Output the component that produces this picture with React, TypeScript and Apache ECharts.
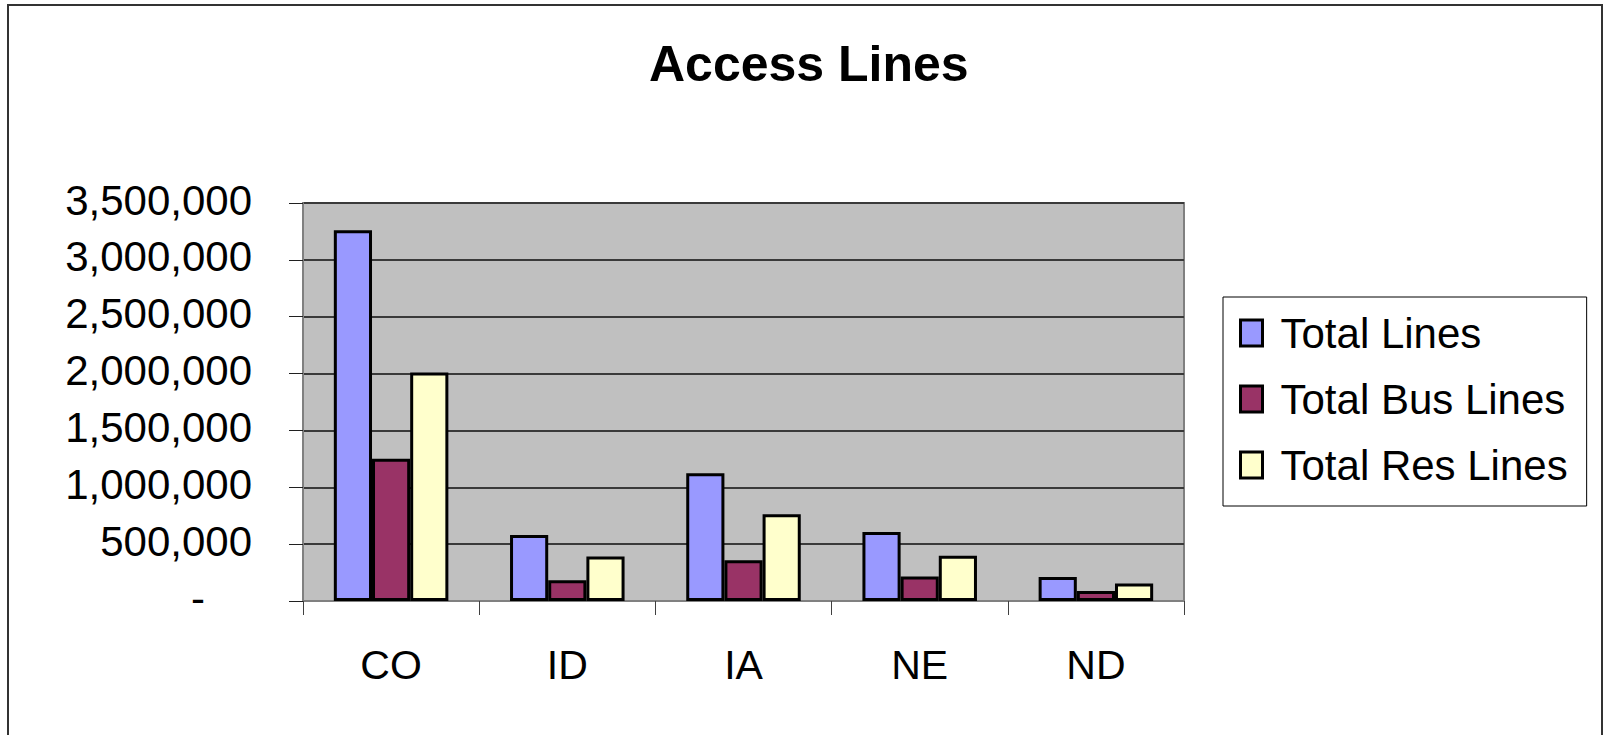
import React, { useEffect, useRef } from "react";
import * as echarts from "echarts";

const categories = ["CO", "ID", "IA", "NE", "ND"];
const totalLines = [3260000, 580000, 1123000, 606000, 212000];
const totalBusLines = [1252000, 182000, 359000, 215000, 88000];
const totalResLines = [2010000, 391000, 762000, 397000, 153000];
const seriesNames = ["Total Lines", "Total Bus Lines", "Total Res Lines"];
const seriesColors = ["#9999FF", "#993366", "#FFFFCC"];

const FONT = "'Liberation Sans', Arial, sans-serif";

function fmt(v: number): string {
  if (v === 0) return "{dash|-}";
  return String(Math.round(v)).replace(/\B(?=(\d{3})+(?!\d))/g, ",");
}

export default function App() {
  const ref = useRef<HTMLDivElement>(null);
  useEffect(() => {
    if (!ref.current) return;
    const chart = echarts.init(ref.current, undefined, { renderer: "svg" });
    const data = [totalLines, totalBusLines, totalResLines];
    chart.setOption({
      animation: false,
      backgroundColor: "#ffffff",
      title: {
        text: "Access Lines",
        left: 649,
        top: 39,
        padding: 0,
        textStyle: { fontFamily: FONT, fontWeight: "bold", fontSize: 50, color: "#000" },
      },
      graphic: [
        {
          type: "rect",
          shape: { x: 8, y: 5, width: 1594, height: 760 },
          style: { fill: "none", stroke: "#333", lineWidth: 2 },
          silent: true,
          z: 100,
        },
      ],
      legend: {
        orient: "vertical",
        left: 1223,
        top: 297,
        padding: [15, 19, 20, 16],
        itemGap: 24,
        itemWidth: 22,
        itemHeight: 26,
        icon: "rect",
        borderColor: "#000",
        borderWidth: 1,
        backgroundColor: "#fff",
        textStyle: {
          fontFamily: FONT,
          fontSize: 42,
          lineHeight: 42,
          color: "#000",
          padding: [0, 0, 0, 13],
        },
        itemStyle: { borderColor: "#000", borderWidth: 3 },
        data: seriesNames,
      },
      grid: {
        left: 303,
        top: 203,
        right: 421,
        bottom: 134,
        show: true,
        backgroundColor: "#C0C0C0",
        borderColor: "#808080",
        borderWidth: 2,
        containLabel: false,
      },
      xAxis: {
        type: "category",
        data: categories,
        axisLine: { show: true, lineStyle: { color: "#808080", width: 2 } },
        axisTick: { show: true, length: 14, lineStyle: { color: "#404040", width: 1 } },
        axisLabel: { fontFamily: FONT, fontSize: 41, color: "#000", margin: 43 },
        splitLine: { show: false },
      },
      yAxis: {
        type: "value",
        min: 0,
        max: 3500000,
        interval: 500000,
        axisLine: { show: true, lineStyle: { color: "#808080", width: 2 } },
        axisTick: { show: true, length: 14, lineStyle: { color: "#202020", width: 1 } },
        axisLabel: {
          fontFamily: FONT,
          fontSize: 42,
          color: "#000",
          margin: 51,
          padding: [0, 0, 6, 0],
          formatter: fmt,
          rich: { dash: { fontFamily: FONT, fontSize: 42, color: "#000", padding: [0, 47, 0, 0] } },
        },
        splitLine: { show: true, lineStyle: { color: "#3a3a3a", width: 2 } },
      },
      series: seriesNames.map((name, i) => ({
        name,
        type: "bar",
        data: data[i],
        barGap: "0%",
        barCategoryGap: "35%",
        itemStyle: { color: seriesColors[i], borderColor: "#000", borderWidth: 3 },
      })),
    });
    return () => chart.dispose();
  }, []);
  return (
    <div
      ref={ref}
      style={{ position: "fixed", left: 0, top: 0, width: 1605, height: 735 }}
    />
  );
}
